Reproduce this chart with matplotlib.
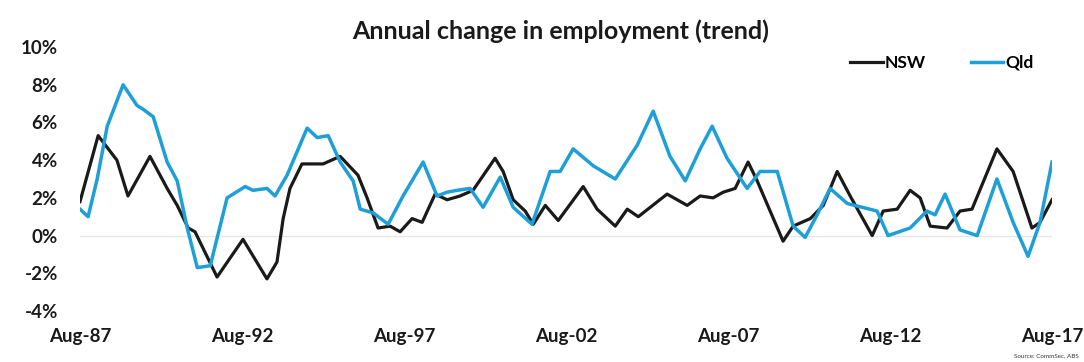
import matplotlib.pyplot as plt

# readings taken off the chart (decimal year, % annual change)
nsw_t = [1987.58, 1988.14, 1988.72, 1989.06, 1989.74, 1990.27, 1990.58, 1990.92, 1991.13,
         1991.81, 1992.61, 1993.35, 1993.66, 1993.85, 1994.06, 1994.43, 1995.08, 1995.61,
         1996.16, 1996.44, 1996.78, 1997.15, 1997.46, 1997.83, 1998.14, 1998.54, 1998.91,
         1999.31, 1999.71, 2000.39, 2000.64, 2000.95, 2001.32, 2001.57, 2001.94, 2002.34,
         2003.11, 2003.54, 2004.10, 2004.47, 2004.81, 2005.70, 2006.32, 2006.72, 2007.12,
         2007.43, 2007.80, 2008.20, 2008.48, 2008.88, 2009.28, 2009.59, 2010.12, 2010.52,
         2010.95, 2011.35, 2012.03, 2012.37, 2012.80, 2013.20, 2013.51, 2013.82, 2014.34,
         2014.74, 2015.11, 2015.88, 2016.38, 2016.96, 2017.21, 2017.58]
nsw = [1.8, 5.3, 4.0, 2.1, 4.2, 2.5, 1.6, 0.4, 0.2,
       -2.2, -0.2, -2.3, -1.4, 0.9, 2.5, 3.8, 3.8, 4.2,
       3.2, 2.0, 0.4, 0.5, 0.2, 0.9, 0.7, 2.2, 1.9,
       2.1, 2.4, 4.1, 3.4, 1.9, 1.3, 0.6, 1.6, 0.8,
       2.6, 1.4, 0.5, 1.4, 1.0, 2.2, 1.6, 2.1, 2.0,
       2.3, 2.5, 3.9, 2.9, 1.3, -0.3, 0.5, 0.9, 1.6,
       3.4, 2.1, 0.0, 1.3, 1.4, 2.4, 2.0, 0.5, 0.4,
       1.3, 1.4, 4.6, 3.4, 0.4, 0.7, 1.9]

qld_t = [1987.58, 1987.83, 1988.11, 1988.42, 1988.91, 1989.34, 1989.53, 1989.84, 1990.27,
         1990.58, 1990.89, 1991.20, 1991.60, 1992.12, 1992.68, 1992.92, 1993.35, 1993.60,
         1993.97, 1994.59, 1994.90, 1995.24, 1995.61, 1996.01, 1996.23, 1996.63, 1997.09,
         1997.55, 1998.17, 1998.60, 1998.91, 1999.22, 1999.62, 2000.02, 2000.55, 2000.95,
         2001.53, 2002.09, 2002.40, 2002.80, 2003.42, 2004.10, 2004.78, 2005.27, 2005.79,
         2006.26, 2006.72, 2007.09, 2007.55, 2008.17, 2008.57, 2009.10, 2009.59, 2009.96,
         2010.33, 2010.73, 2011.26, 2012.18, 2012.52, 2013.20, 2013.72, 2013.97, 2014.28,
         2014.74, 2015.27, 2015.88, 2016.38, 2016.84, 2017.21, 2017.58]
qld = [1.4, 1.0, 3.0, 5.8, 8.0, 6.9, 6.7, 6.3, 3.9,
       2.9, 0.4, -1.7, -1.6, 2.0, 2.6, 2.4, 2.5, 2.1,
       3.2, 5.7, 5.2, 5.3, 3.9, 2.9, 1.4, 1.2, 0.6,
       2.1, 3.9, 2.1, 2.3, 2.4, 2.5, 1.5, 3.1, 1.5,
       0.6, 3.4, 3.4, 4.6, 3.7, 3.0, 4.8, 6.6, 4.2,
       2.9, 4.6, 5.8, 4.1, 2.5, 3.4, 3.4, 0.5, -0.1,
       1.1, 2.5, 1.7, 1.3, 0.0, 0.4, 1.3, 1.1, 2.2,
       0.3, 0.0, 3.0, 0.7, -1.1, 0.7, 3.9]

tick_pos = [1987.58, 1992.58, 1997.58, 2002.58, 2007.58, 2012.58, 2017.58]
tick_lab = ['Aug-87', 'Aug-92', 'Aug-97', 'Aug-02', 'Aug-07', 'Aug-12', 'Aug-17']

plt.rcParams['font.family'] = ['Lato', 'DejaVu Sans']

fig = plt.figure(figsize=(10.84, 3.62), dpi=100)
ax = fig.add_axes([0.0738, 0.141, 0.8967, 0.729])

ax.axhline(0, color='#e6e6e6', lw=1, zorder=0)
ax.plot(nsw_t, nsw, color='#1a1a1a', lw=2.3, label='NSW', solid_joinstyle='round')
ax.plot(qld_t, qld, color='#1e9fd8', lw=2.5, label='Qld', solid_joinstyle='round')

ax.set_xlim(1987.58, 2017.58)
ax.set_ylim(-4, 10)
ax.set_yticks(range(-4, 11, 2))
ax.set_yticklabels([f'{v}%' for v in range(-4, 11, 2)])
ax.set_xticks(tick_pos)
ax.set_xticklabels(tick_lab)
ax.tick_params(length=0, labelsize=13.5, colors='#1a1a1a')
ax.tick_params(axis='x', pad=12)
ax.tick_params(axis='y', pad=16)
for lbl in ax.get_xticklabels() + ax.get_yticklabels():
    lbl.set_fontweight('bold')
for s in ax.spines.values():
    s.set_visible(False)

fig.text(0.5175, 0.915, 'Annual change in employment (trend)', ha='center', va='center',
         fontsize=18, fontweight='bold', color='#1a1a1a')

ax.legend(loc='upper right', bbox_to_anchor=(0.997, 1.03), ncol=2, frameon=False,
          handlelength=1.9, handletextpad=0.1, columnspacing=2.6,
          prop={'size': 12.5, 'weight': 'bold'})

fig.text(0.995, 0.01, 'Source: CommSec, ABS', ha='right', va='bottom', fontsize=4.5,
         color='#333333')

fig.savefig('out.png', dpi=100)
